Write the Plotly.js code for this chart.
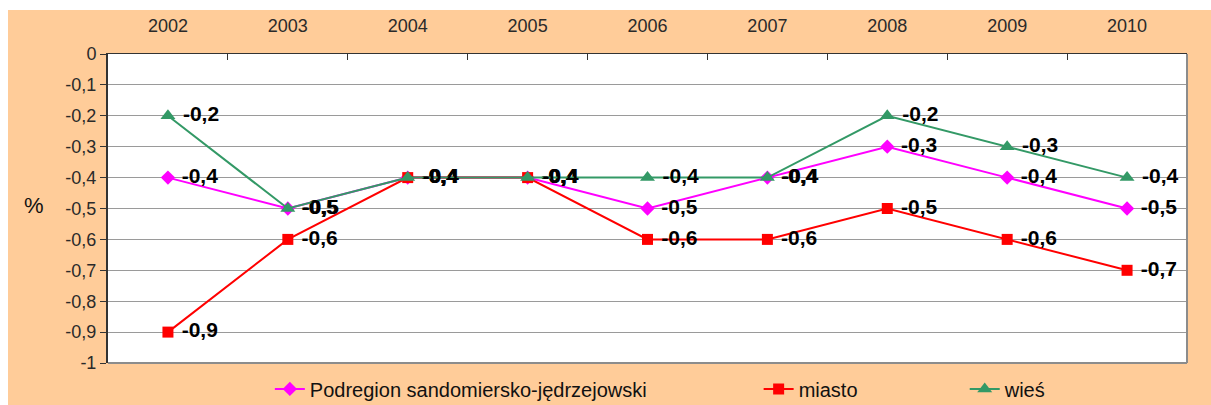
<!DOCTYPE html>
<html>
<head>
<meta charset="utf-8">
<script src="https://cdn.plot.ly/plotly-3.0.1.min.js"></script>
<style>
  html, body { margin: 0; padding: 0; background: #ffffff; }
  #chart { position: absolute; left: 8px; top: 10px; width: 1203px; height: 395px; }
</style>
</head>
<body>
<div id="chart"></div>
<script>
const years = ['2002', '2003', '2004', '2005', '2006', '2007', '2008', '2009', '2010'];
const podregion = [-0.4, -0.5, -0.4, -0.4, -0.5, -0.4, -0.3, -0.4, -0.5];
const miasto = [-0.9, -0.6, -0.4, -0.4, -0.6, -0.6, -0.5, -0.6, -0.7];
const wies = [-0.2, -0.5, -0.4, -0.4, -0.4, -0.4, -0.2, -0.3, -0.4];
const seriesNames = ['Podregion sandomiersko-jędrzejowski', 'miasto', 'wieś'];
const yTickVals = [0, -0.1, -0.2, -0.3, -0.4, -0.5, -0.6, -0.7, -0.8, -0.9, -1];
const yTickText = ['0', '-0,1', '-0,2', '-0,3', '-0,4', '-0,5', '-0,6', '-0,7', '-0,8', '-0,9', '-1'];

const FONT = 'Liberation Sans, Arial, sans-serif';
const fmt = v => ' ' + v.toFixed(1).replace('.', ',');

function series(name, vals, color, symbol, size, legendId) {
  return {
    type: 'scatter', mode: 'lines+markers+text',
    name: name, x: years, y: vals,
    text: vals.map(fmt), textposition: 'middle right',
    textfont: { family: FONT, size: 21, color: '#000000', weight: 'bold' },
    line: { color: color, width: 2 },
    marker: { color: color, symbol: symbol, size: size },
    cliponaxis: false,
    legend: legendId,
    hoverinfo: 'x+y'
  };
}

const data = [
  series(seriesNames[0], podregion, '#FF00FF', 'diamond', 11, 'legend'),
  series(seriesNames[1], miasto, '#FF0000', 'square', 11, 'legend2'),
  series(seriesNames[2], wies, '#339966', 'triangle-up', 13, 'legend3')
];

const legBase = { orientation: 'h', yanchor: 'middle', y: -0.084, xanchor: 'left',
  bgcolor: 'rgba(0,0,0,0)', borderwidth: 0,
  font: { family: FONT, size: 20, color: '#111111' } };

const layout = {
  width: 1203, height: 395,
  paper_bgcolor: '#FFCC99', plot_bgcolor: '#FFFFFF',
  margin: { l: 100, r: 24, t: 44, b: 42, autoexpand: false },
  showlegend: true,
  legend: Object.assign({}, legBase, { x: 0.150 }),
  legend2: Object.assign({}, legBase, { x: 0.603 }),
  legend3: Object.assign({}, legBase, { x: 0.794 }),
  xaxis: {
    type: 'category', side: 'top', range: [-0.5, 8.5],
    showgrid: false, zeroline: false,
    showline: true, linecolor: '#333333', linewidth: 1,
    ticks: 'inside', ticklen: 6, tickcolor: '#333333', tickson: 'boundaries',
    ticklabelstandoff: 14,
    tickfont: { family: FONT, size: 18, color: '#2a2a2a' },
    fixedrange: true
  },
  yaxis: {
    range: [-1, 0], tickmode: 'array', tickvals: yTickVals, ticktext: yTickText,
    showgrid: true, gridcolor: '#9a9a9a', gridwidth: 1, zeroline: false,
    showline: true, linecolor: '#333333', linewidth: 2,
    ticks: 'outside', ticklen: 6, tickcolor: '#333333',
    tickfont: { family: FONT, size: 18, color: '#2a2a2a' },
    fixedrange: true
  },
  shapes: [
    { type: 'line', xref: 'paper', yref: 'paper', x0: 1, x1: 1, y0: 0, y1: 1,
      line: { color: '#8c8c8c', width: 2 } },
    { type: 'line', xref: 'paper', yref: 'paper', x0: 0, x1: 1, y0: 0, y1: 0,
      line: { color: '#8c8c8c', width: 2 } }
  ],
  annotations: [
    { text: '%', xref: 'paper', yref: 'paper', x: -0.0686, y: 0.511,
      xanchor: 'center', yanchor: 'middle', showarrow: false,
      font: { family: FONT, size: 22, color: '#111111' } }
  ]
};

Plotly.newPlot('chart', data, layout, { displayModeBar: false, staticPlot: true });
</script>
</body>
</html>
